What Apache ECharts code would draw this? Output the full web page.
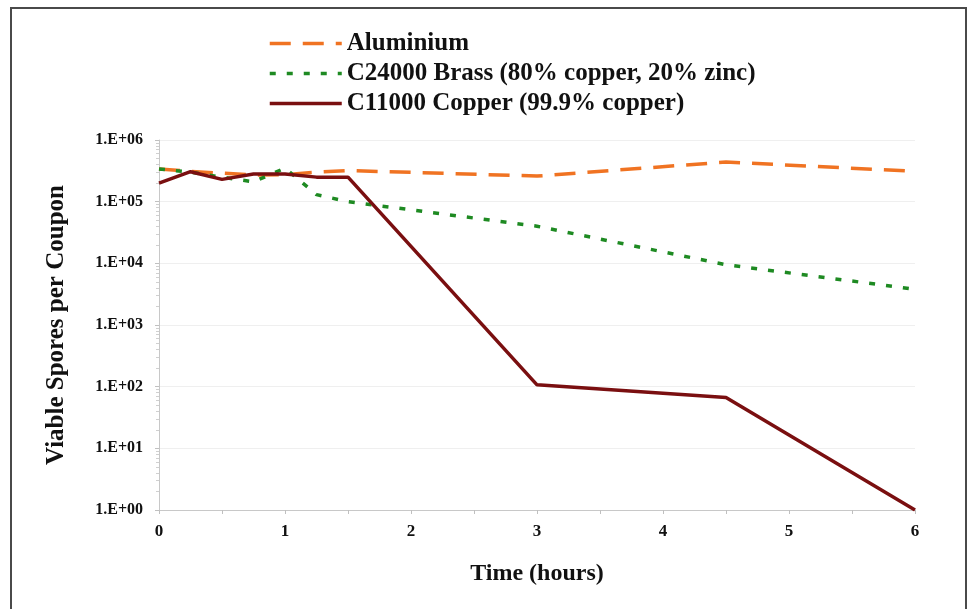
<!DOCTYPE html>
<html>
<head>
<meta charset="utf-8">
<script src="https://cdn.jsdelivr.net/npm/echarts@6/dist/echarts.min.js"></script>
<style>
html,body{margin:0;padding:0;background:#fff;}
#chart{width:978px;height:609px;}
</style>
</head>
<body>
<div id="chart"></div>
<script>
// Data
const times = [0, 0.25, 0.5, 0.75, 1, 1.25, 1.5, 3, 4.5, 6];
const aluminium = [3.4e5, 3.1e5, 2.9e5, 2.7e5, 2.75e5, 3.0e5, 3.2e5, 2.6e5, 4.4e5, 3.1e5];
const brass = [3.4e5, 3.0e5, 2.5e5, 2.1e5, 3.5e5, 1.3e5, 1.0e5, 4.0e4, 9.5e3, 3.8e3];
const copper = [2.0e5, 3.06e5, 2.3e5, 2.8e5, 2.8e5, 2.5e5, 2.5e5, 107, 67, 1];
const seriesNames = ['Aluminium', 'C24000 Brass (80% copper, 20% zinc)', 'C11000 Copper (99.9% copper)'];
const yTickLabels = ['1.E+00', '1.E+01', '1.E+02', '1.E+03', '1.E+04', '1.E+05', '1.E+06'];
const xTickLabels = ['0', '1', '2', '3', '4', '5', '6'];

const pairs = arr => times.map((t, i) => [t, arr[i]]);
const FONT = '"Liberation Serif", "Times New Roman", serif';

const chart = echarts.init(document.getElementById('chart'));
chart.setOption({
  animation: false,
  backgroundColor: '#ffffff',
  graphic: [{
    type: 'rect',
    shape: { x: 11, y: 8, width: 955, height: 640 },
    style: { fill: 'none', stroke: '#4a4a4a', lineWidth: 2 },
    silent: true
  }],
  legend: {
    orient: 'vertical',
    left: 263,
    top: 26,
    itemWidth: 72,
    itemHeight: 24,
    itemGap: 5,
    itemStyle: { opacity: 0 },
    lineStyle: { width: 3.5 },
    textStyle: { fontFamily: FONT, fontWeight: 'bold', fontSize: 25, color: '#111' },
    data: seriesNames
  },
  grid: { left: 159, right: 63, top: 140, bottom: 99 },
  xAxis: {
    type: 'value',
    min: 0, max: 6, interval: 1,
    name: 'Time (hours)',
    nameLocation: 'middle',
    nameGap: 52,
    nameTextStyle: { fontFamily: FONT, fontWeight: 'bold', fontSize: 24, color: '#111' },
    axisLine: { show: true, lineStyle: { color: '#c8c8c8', width: 1 } },
    axisTick: { show: true, length: 4, lineStyle: { color: '#c0c0c0' } },
    minorTick: { show: true, splitNumber: 2, length: 4, lineStyle: { color: '#c0c0c0' } },
    splitLine: { show: false },
    axisLabel: {
      fontFamily: FONT, fontWeight: 'bold', fontSize: 17, color: '#111', margin: 13,
      formatter: v => xTickLabels[Math.round(v)]
    }
  },
  yAxis: {
    type: 'log',
    logBase: 10,
    min: 1, max: 1e6,
    name: 'Viable Spores per Coupon',
    nameLocation: 'middle',
    nameGap: 90,
    nameTextStyle: { fontFamily: FONT, fontWeight: 'bold', fontSize: 25, color: '#111' },
    axisLine: { show: true, lineStyle: { color: '#c8c8c8', width: 1 } },
    axisTick: { show: true, length: 4, lineStyle: { color: '#c0c0c0' } },
    minorTick: { show: true, splitNumber: 9, length: 3, lineStyle: { color: '#d0d0d0' } },
    splitLine: { show: true, lineStyle: { color: '#efefef', width: 1 } },
    axisLabel: {
      fontFamily: FONT, fontWeight: 'bold', fontSize: 16, color: '#111', margin: 16,
      formatter: v => yTickLabels[Math.round(Math.log10(v))]
    }
  },
  series: [
    {
      name: seriesNames[0], type: 'line', data: pairs(aluminium),
      symbol: 'none', z: 2,
      lineStyle: { color: '#f07322', width: 3.5, type: [21, 12] },
      itemStyle: { color: '#f07322' }
    },
    {
      name: seriesNames[1], type: 'line', data: pairs(brass),
      symbol: 'none', z: 3,
      lineStyle: { color: '#1e8a22', width: 3.5, type: [6, 11] },
      itemStyle: { color: '#1e8a22' }
    },
    {
      name: seriesNames[2], type: 'line', data: pairs(copper),
      symbol: 'none', z: 4,
      lineStyle: { color: '#7a0f10', width: 3.5, type: 'solid' },
      itemStyle: { color: '#7a0f10' }
    }
  ]
});
</script>
</body>
</html>
